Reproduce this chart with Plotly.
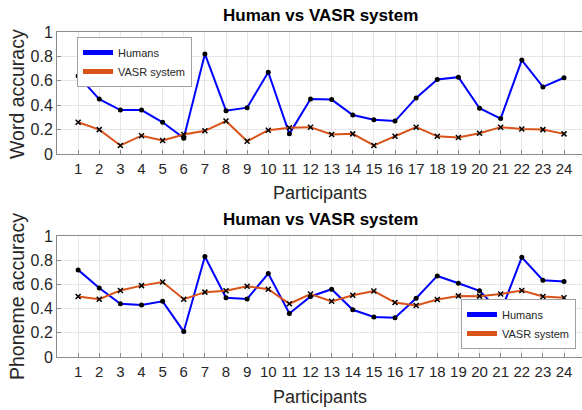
import plotly.graph_objects as go

participants = list(range(1, 25))
word_humans = [0.64, 0.45, 0.36, 0.36, 0.26, 0.13, 0.82, 0.355, 0.38, 0.67, 0.165, 0.45,
               0.446, 0.32, 0.28, 0.27, 0.46, 0.61, 0.63, 0.375, 0.29, 0.77, 0.55, 0.625]
word_vasr = [0.26, 0.20, 0.07, 0.15, 0.11, 0.16, 0.19, 0.27, 0.105, 0.195, 0.215, 0.22,
             0.16, 0.165, 0.07, 0.145, 0.22, 0.145, 0.135, 0.17, 0.22, 0.205, 0.20, 0.165]
phon_humans = [0.72, 0.57, 0.44, 0.43, 0.46, 0.21, 0.83, 0.49, 0.48, 0.69, 0.36, 0.50,
               0.56, 0.39, 0.33, 0.325, 0.486, 0.67, 0.61, 0.547, 0.37, 0.824, 0.635, 0.624]
phon_vasr = [0.50, 0.478, 0.55, 0.59, 0.62, 0.478, 0.536, 0.547, 0.585, 0.56, 0.44, 0.52,
             0.46, 0.51, 0.545, 0.45, 0.426, 0.475, 0.505, 0.503, 0.52, 0.55, 0.50, 0.489]
y_ticks = [0, 0.2, 0.4, 0.6, 0.8, 1]
y_tick_labels = ["0", "0.2", "0.4", "0.6", "0.8", "1"]
x_tick_labels = [str(p) for p in participants]
titles = ["Human vs VASR system", "Human vs VASR system"]
x_titles = ["Participants", "Participants"]
y_titles = ["Word accuracy", "Phoneme accuracy"]

BLUE = "#0000FF"
ORANGE = "#D95319"
FONT = "Arial, Liberation Sans, sans-serif"
TXT = "#262626"

fig = go.Figure()

def add_pair(xa, ya, hum, vasr, legend):
    fig.add_trace(go.Scatter(x=participants, y=hum, mode="lines+markers", xaxis=xa, yaxis=ya,
                             line=dict(color=BLUE, width=2),
                             marker=dict(color="black", size=5, symbol="circle"),
                             showlegend=False, hoverinfo="skip"))
    fig.add_trace(go.Scatter(x=participants, y=vasr, mode="lines+markers", xaxis=xa, yaxis=ya,
                             line=dict(color=ORANGE, width=2),
                             marker=dict(color="black", size=5, symbol="x-thin",
                                         line=dict(color="black", width=1.5)),
                             showlegend=False, hoverinfo="skip"))
    fig.add_trace(go.Scatter(x=[None], y=[None], mode="lines", xaxis=xa, yaxis=ya,
                             line=dict(color=BLUE, width=5), name="Humans", legend=legend))
    fig.add_trace(go.Scatter(x=[None], y=[None], mode="lines", xaxis=xa, yaxis=ya,
                             line=dict(color=ORANGE, width=5), name="VASR system", legend=legend))

add_pair("x", "y", word_humans, word_vasr, "legend")
add_pair("x2", "y2", phon_humans, phon_vasr, "legend2")

H = 410
W = 582
L = 57
PW = W - L

def dom(top, bottom):
    return [1 - bottom / H, 1 - top / H]

def px(xp):
    return (xp - L) / PW

def py(yp):
    return 1 - yp / H

axis_common = dict(showgrid=True, gridcolor="#E6E6E6", gridwidth=1,
                   showline=True, linecolor="#8C8C8C", linewidth=1, mirror=True,
                   ticks="inside", ticklen=4, tickcolor="#8C8C8C", automargin=False,
                   zeroline=False)

xcommon = dict(axis_common, range=[0, 24.85], tickvals=participants, ticktext=x_tick_labels,
               tickfont=dict(family=FONT, size=15, color=TXT), ticklabelstandoff=1)
ycommon = dict(axis_common, range=[0, 1], tickvals=y_ticks, ticktext=y_tick_labels,
               tickfont=dict(family=FONT, size=16, color=TXT))

legend_common = dict(bgcolor="white", bordercolor="#A0A0A0", borderwidth=1,
                     font=dict(family=FONT, size=11, color=TXT), xref="paper", yref="paper",
                     tracegroupgap=0, itemwidth=30)

annotations = []
for tt, top in [(titles[0], 15), (titles[1], 219)]:
    annotations.append(dict(text="<b>" + tt + "</b>", x=px(320), y=py(top), xref="paper", yref="paper",
                            showarrow=False, font=dict(family=FONT, size=17, color="black"),
                            xanchor="center", yanchor="middle"))
for tt, yc in [(x_titles[0], 193), (x_titles[1], 397)]:
    annotations.append(dict(text=tt, x=px(320), y=py(yc), xref="paper", yref="paper",
                            showarrow=False, font=dict(family=FONT, size=18, color=TXT),
                            xanchor="center", yanchor="middle"))
for tt, yc in [(y_titles[0], 94), (y_titles[1], 297)]:
    annotations.append(dict(text=tt, x=px(17), y=py(yc), xref="paper", yref="paper",
                            showarrow=False, textangle=-90, font=dict(family=FONT, size=19.5, color=TXT),
                            xanchor="center", yanchor="middle"))

fig.update_layout(
    width=W, height=H,
    margin=dict(l=L, r=0, t=0, b=0, autoexpand=False),
    plot_bgcolor="white", paper_bgcolor="white",
    hovermode=False,
    xaxis=dict(xcommon, domain=[0, 1], anchor="y"),
    yaxis=dict(ycommon, domain=dom(32, 154), anchor="x"),
    xaxis2=dict(xcommon, domain=[0, 1], anchor="y2"),
    yaxis2=dict(ycommon, domain=dom(236, 357), anchor="x2"),
    legend=dict(legend_common, x=px(77), y=py(37), xanchor="left", yanchor="top"),
    legend2=dict(legend_common, x=px(576), y=py(349), xanchor="right", yanchor="bottom"),
    annotations=annotations,
)

fig.write_html("out.html", config={"displayModeBar": False})

# remove the browser's default body margin so the figure sits at the page origin
with open("out.html", "r", encoding="utf-8") as f:
    html = f.read()
html = html.replace("<head>", "<head><style>html,body{margin:0;padding:0;overflow:hidden;}</style>", 1)
with open("out.html", "w", encoding="utf-8") as f:
    f.write(html)
